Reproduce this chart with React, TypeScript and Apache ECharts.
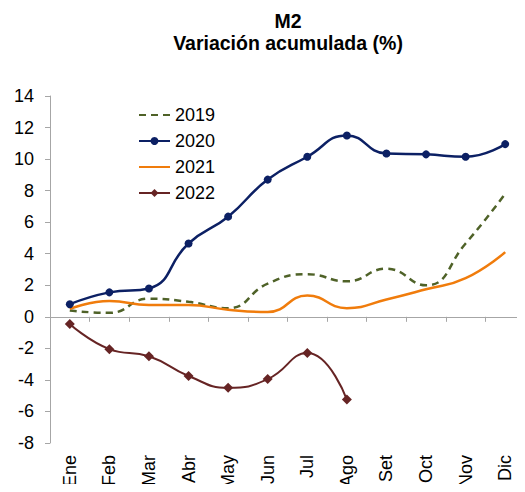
import React, { useEffect, useRef } from "react";
import * as echarts from "echarts";

const months = ["Ene", "Feb", "Mar", "Abr", "May", "Jun", "Jul", "Ago", "Set", "Oct", "Nov", "Dic"];
const s2019 = [0.4, 0.25, 1.15, 0.95, 0.55, 2.1, 2.7, 2.25, 3.05, 2.0, 4.65, 7.8];
const s2020 = [0.8, 1.55, 1.8, 4.65, 6.35, 8.7, 10.15, 11.5, 10.35, 10.3, 10.15, 10.95];
const s2021 = [0.5, 1.0, 0.75, 0.75, 0.45, 0.3, 1.35, 0.55, 1.1, 1.75, 2.45, 4.1];
const s2022 = [-0.45, -2.05, -2.5, -3.75, -4.5, -3.95, -2.3, -5.25];

const FONT = "Arial, 'Liberation Sans', sans-serif";
const C2019 = "#4f6228";
const C2020 = "#0c2064";
const C2021 = "#f07c0c";
const C2022 = "#662424";

export default function App() {
  const ref = useRef<HTMLDivElement>(null);
  useEffect(() => {
    const chart = echarts.init(ref.current!, undefined, { renderer: "svg" });
    chart.setOption({
      animation: false,
      backgroundColor: "#ffffff",
      title: {
        text: "M2\nVariación acumulada (%)",
        left: 283,
        top: 5,
        textAlign: "center",
        textStyle: { fontFamily: FONT, fontSize: 19.5, fontWeight: "bold", color: "#000", lineHeight: 22 },
      },
      legend: {
        orient: "vertical",
        left: 133,
        top: 101,
        itemWidth: 31,
        itemHeight: 10,
        itemGap: 8,
        textStyle: { fontFamily: FONT, fontSize: 18, color: "#000" },
        data: [
          { name: "2019", itemStyle: { opacity: 0 } },
          { name: "2020" },
          { name: "2021", itemStyle: { opacity: 0 } },
          { name: "2022" },
        ],
      },
      grid: { left: 50, top: 96, width: 482, height: 350, containLabel: false },
      xAxis: [
        {
          type: "category",
          data: months,
          position: "bottom",
          boundaryGap: true,
          axisLine: { show: false, onZero: false },
          axisTick: { show: false },
          axisLabel: { rotate: 90, margin: 12, fontFamily: FONT, fontSize: 18, color: "#000", interval: 0 },
        },
        {
          type: "category",
          data: months,
          position: "bottom",
          boundaryGap: true,
          axisLine: { show: true, onZero: true, lineStyle: { color: "#a6a6a6", width: 1 } },
          axisTick: { show: true, length: 5, lineStyle: { color: "#a6a6a6" }, interval: 0 },
          axisLabel: { show: false },
        },
      ],
      yAxis: {
        type: "value",
        min: -8,
        max: 14,
        interval: 2,
        axisLine: { show: true, onZero: false, lineStyle: { color: "#a6a6a6", width: 1 } },
        axisTick: { show: true, length: 5, lineStyle: { color: "#a6a6a6" } },
        splitLine: { show: false },
        axisLabel: { margin: 16, fontFamily: FONT, fontSize: 18, color: "#000" },
      },
      series: [
        {
          name: "2019",
          type: "line",
          data: s2019,
          smooth: 0.5,
          symbol: "none",
          color: C2019,
          lineStyle: { width: 2.5, type: [7, 5], color: C2019 },
        },
        {
          name: "2020",
          type: "line",
          data: s2020,
          smooth: 0.5,
          symbol: "circle",
          symbolSize: 8,
          color: C2020,
          lineStyle: { width: 2.5, color: C2020 },
          itemStyle: { color: C2020 },
        },
        {
          name: "2021",
          type: "line",
          data: s2021,
          smooth: 0.5,
          symbol: "none",
          color: C2021,
          lineStyle: { width: 2.5, color: C2021 },
        },
        {
          name: "2022",
          type: "line",
          data: s2022,
          smooth: 0.5,
          symbol: "diamond",
          symbolSize: 10,
          color: C2022,
          lineStyle: { width: 2, color: C2022 },
          itemStyle: { color: C2022 },
        },
      ],
    });
    return () => chart.dispose();
  }, []);
  return <div ref={ref} style={{ width: 525, height: 492, margin: -8 }} />;
}
